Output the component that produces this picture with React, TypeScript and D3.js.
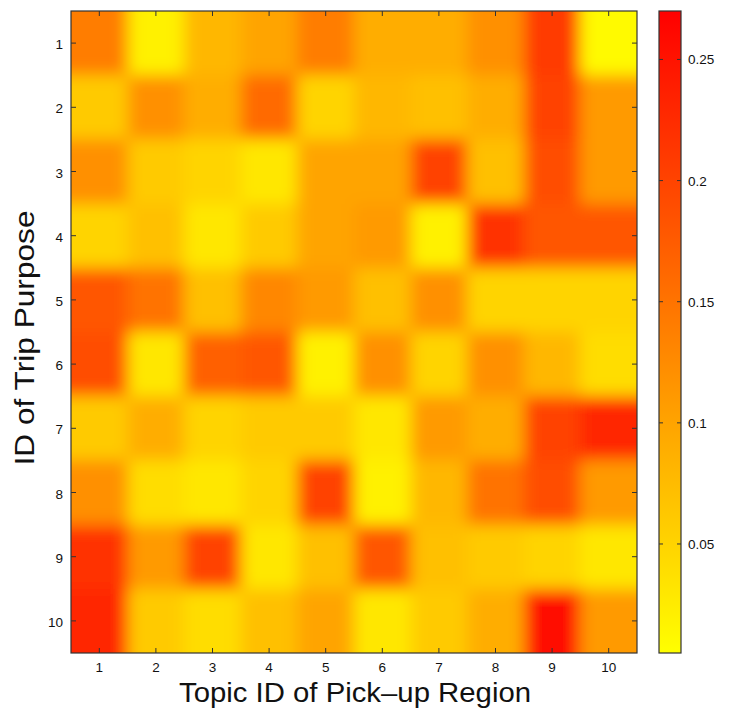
import React, { useEffect, useRef } from 'react';
import * as d3 from 'd3';

// trip purpose (rows) x pick-up region topic (cols)
const rowIds = [1, 2, 3, 4, 5, 6, 7, 8, 9, 10];
const colIds = [1, 2, 3, 4, 5, 6, 7, 8, 9, 10];
const values = [
  [0.14, 0.02, 0.08, 0.10, 0.14, 0.09, 0.09, 0.12, 0.21, 0.01],
  [0.06, 0.12, 0.09, 0.16, 0.05, 0.08, 0.07, 0.09, 0.20, 0.11],
  [0.12, 0.06, 0.05, 0.03, 0.10, 0.10, 0.20, 0.07, 0.19, 0.11],
  [0.05, 0.07, 0.03, 0.06, 0.10, 0.11, 0.02, 0.22, 0.18, 0.18],
  [0.18, 0.15, 0.07, 0.13, 0.11, 0.07, 0.12, 0.05, 0.05, 0.05],
  [0.19, 0.03, 0.17, 0.18, 0.02, 0.12, 0.05, 0.12, 0.08, 0.04],
  [0.06, 0.09, 0.05, 0.06, 0.06, 0.03, 0.11, 0.09, 0.20, 0.23],
  [0.12, 0.04, 0.03, 0.05, 0.20, 0.02, 0.08, 0.15, 0.19, 0.11],
  [0.22, 0.11, 0.20, 0.03, 0.07, 0.18, 0.07, 0.06, 0.05, 0.03],
  [0.23, 0.06, 0.04, 0.07, 0.10, 0.03, 0.06, 0.09, 0.26, 0.11],
];
const colorDomain = [0.005, 0.27];
const colorTicks = [0.05, 0.1, 0.15, 0.2, 0.25];

const W = 731;
const H = 710;

const App = () => {
  const svgRef = useRef<SVGSVGElement>(null);

  useEffect(() => {
    const svg = d3.select(svgRef.current);
    svg.selectAll('*').remove();

    const font = 'Liberation Sans, Arial, Helvetica, sans-serif';
    const left = 71, right = 637, top = 11, bottom = 653;
    const cbLeft = 659, cbRight = 681;

    const x = d3.scaleBand<number>().domain(colIds).range([left, right]);
    const y = d3.scaleBand<number>().domain(rowIds).range([top, bottom]);
    // autumn colormap reversed: yellow -> red
    const color = d3.scaleLinear<string>()
      .domain(colorDomain)
      .range(['rgb(255,255,0)', 'rgb(255,0,0)'])
      .clamp(true);

    const defs = svg.append('defs');
    defs.append('clipPath').attr('id', 'plotClip')
      .append('rect')
      .attr('x', left).attr('y', top)
      .attr('width', right - left).attr('height', bottom - top);
    defs.append('filter').attr('id', 'smooth')
      .attr('x', '-10%').attr('y', '-10%').attr('width', '120%').attr('height', '120%')
      .append('feGaussianBlur').attr('stdDeviation', 8);

    const cells = values.flatMap((row, i) => row.map((v, j) => ({ r: rowIds[i], c: colIds[j], v })));
    const pad = 30; // stretch edge cells so the blur doesn't fade at the border

    svg.append('g').attr('clip-path', 'url(#plotClip)')
      .append('g').attr('filter', 'url(#smooth)')
      .selectAll('rect')
      .data(cells)
      .enter()
      .append('rect')
      .attr('x', d => x(d.c)! - (d.c === colIds[0] ? pad : 0))
      .attr('y', d => y(d.r)! - (d.r === rowIds[0] ? pad : 0))
      .attr('width', d => x.bandwidth() + 0.5 + (d.c === colIds[0] || d.c === colIds[colIds.length - 1] ? pad : 0))
      .attr('height', d => y.bandwidth() + 0.5 + (d.r === rowIds[0] || d.r === rowIds[rowIds.length - 1] ? pad : 0))
      .attr('fill', d => color(d.v))
      .attr('shape-rendering', 'crispEdges');

    // frame + ticks
    const axisColor = '#333';
    svg.append('rect')
      .attr('x', left).attr('y', top)
      .attr('width', right - left).attr('height', bottom - top)
      .attr('fill', 'none').attr('stroke', axisColor).attr('stroke-width', 1.2);

    const tl = 5;
    const g = svg.append('g').attr('stroke', axisColor).attr('stroke-width', 1);
    colIds.forEach(c => {
      const cx = x(c)! + x.bandwidth() / 2;
      g.append('line').attr('x1', cx).attr('x2', cx).attr('y1', bottom).attr('y2', bottom - tl);
      g.append('line').attr('x1', cx).attr('x2', cx).attr('y1', top).attr('y2', top + tl);
    });
    rowIds.forEach(r => {
      const cy = y(r)! + y.bandwidth() / 2;
      g.append('line').attr('x1', left).attr('x2', left + tl).attr('y1', cy).attr('y2', cy);
      g.append('line').attr('x1', right).attr('x2', right - tl).attr('y1', cy).attr('y2', cy);
    });

    svg.append('g').selectAll('text').data(colIds).enter().append('text')
      .attr('x', c => x(c)! + x.bandwidth() / 2)
      .attr('y', 672)
      .attr('text-anchor', 'middle')
      .attr('font-family', font).attr('font-size', 13.5).attr('fill', '#111')
      .text(c => c);

    svg.append('g').selectAll('text').data(rowIds).enter().append('text')
      .attr('x', left - 8)
      .attr('y', r => y(r)! + y.bandwidth() / 2 + 6)
      .attr('text-anchor', 'end')
      .attr('font-family', font).attr('font-size', 13.5).attr('fill', '#111')
      .text(r => r);

    svg.append('text')
      .attr('x', 355)
      .attr('y', 702)
      .attr('text-anchor', 'middle')
      .attr('font-family', font).attr('font-size', 27).attr('fill', '#111')
      .attr('textLength', 352).attr('lengthAdjust', 'spacingAndGlyphs')
      .text('Topic ID of Pick–up Region');

    svg.append('text')
      .attr('transform', `translate(34, 338) rotate(-90)`)
      .attr('text-anchor', 'middle')
      .attr('font-family', font).attr('font-size', 27).attr('fill', '#111')
      .attr('textLength', 255).attr('lengthAdjust', 'spacingAndGlyphs')
      .text('ID of Trip Purpose');

    // colorbar
    const cy = d3.scaleLinear().domain(colorDomain).range([bottom, top]);
    const grad = defs.append('linearGradient').attr('id', 'cbGrad')
      .attr('x1', 0).attr('x2', 0).attr('y1', 1).attr('y2', 0);
    colorDomain.forEach((v, i) => {
      grad.append('stop').attr('offset', i).attr('stop-color', color(v));
    });
    svg.append('rect')
      .attr('x', cbLeft).attr('y', top)
      .attr('width', cbRight - cbLeft).attr('height', bottom - top)
      .attr('fill', 'url(#cbGrad)')
      .attr('stroke', axisColor).attr('stroke-width', 1.2);

    const cbg = svg.append('g');
    colorTicks.forEach(t => {
      const ty = cy(t);
      cbg.append('line').attr('x1', cbLeft).attr('x2', cbLeft + 4).attr('y1', ty).attr('y2', ty)
        .attr('stroke', axisColor);
      cbg.append('line').attr('x1', cbRight).attr('x2', cbRight - 4).attr('y1', ty).attr('y2', ty)
        .attr('stroke', axisColor);
      cbg.append('text')
        .attr('x', cbRight + 7).attr('y', ty + 5)
        .attr('font-family', font).attr('font-size', 13.5).attr('fill', '#111')
        .text(String(t));
    });
  }, []);

  return (
    <svg ref={svgRef} width={W} height={H}
      style={{ display: 'block', position: 'absolute', left: 0, top: 0 }}></svg>
  );
};

export default App;
